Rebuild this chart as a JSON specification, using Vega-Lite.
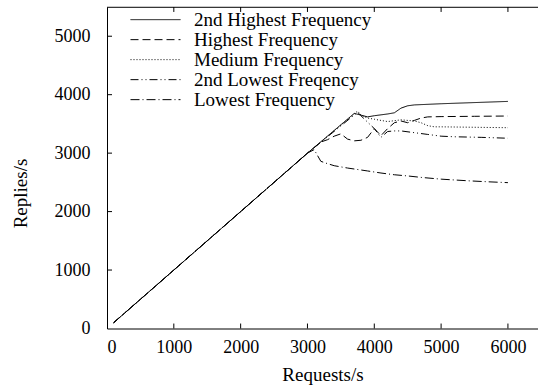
{
  "$schema": "https://vega.github.io/schema/vega-lite/v6.json",
  "autosize": "none",
  "padding": {"left": 107, "top": 7, "right": 0, "bottom": 62},
  "width": 431,
  "height": 321.5,
  "background": "white",
  "config": {
    "view": {"stroke": null},
    "font": "Liberation Serif",
    "axis": {"labelFont": "Liberation Serif", "titleFont": "Liberation Serif", "labelFontSize": 18, "titleFontSize": 19, "labelColor": "black", "titleColor": "black", "titleFontWeight": "normal", "domainColor": "black", "grid": false, "format": "d", "ticks": false},
    "legend": {"labelFont": "Liberation Serif", "labelFontSize": 19, "labelColor": "black", "labelLimit": 0}
  },
  "datasets": {
    "xticks": [
      {"t": 1000}, {"t": 2000}, {"t": 3000}, {"t": 4000}, {"t": 5000}, {"t": 6000}
    ],
    "yticks": [
      {"v": 1000}, {"v": 2000}, {"v": 3000}, {"v": 4000}, {"v": 5000}
    ],
    "topedge": [
      {"a": 0, "b": 6450}
    ]
  },
  "data": {"values": [
    {"series": "2nd Highest Frequency", "req": 100, "rep": 100},
    {"series": "2nd Highest Frequency", "req": 1000, "rep": 1000},
    {"series": "2nd Highest Frequency", "req": 2000, "rep": 2000},
    {"series": "2nd Highest Frequency", "req": 3000, "rep": 3000},
    {"series": "2nd Highest Frequency", "req": 3700, "rep": 3680},
    {"series": "2nd Highest Frequency", "req": 3800, "rep": 3650},
    {"series": "2nd Highest Frequency", "req": 3900, "rep": 3620},
    {"series": "2nd Highest Frequency", "req": 4000, "rep": 3640},
    {"series": "2nd Highest Frequency", "req": 4200, "rep": 3670},
    {"series": "2nd Highest Frequency", "req": 4300, "rep": 3690},
    {"series": "2nd Highest Frequency", "req": 4400, "rep": 3770},
    {"series": "2nd Highest Frequency", "req": 4500, "rep": 3810},
    {"series": "2nd Highest Frequency", "req": 4600, "rep": 3825},
    {"series": "2nd Highest Frequency", "req": 5000, "rep": 3845},
    {"series": "2nd Highest Frequency", "req": 6000, "rep": 3885},

    {"series": "Highest Frequency", "req": 100, "rep": 100},
    {"series": "Highest Frequency", "req": 1000, "rep": 1000},
    {"series": "Highest Frequency", "req": 2000, "rep": 2000},
    {"series": "Highest Frequency", "req": 3000, "rep": 3000},
    {"series": "Highest Frequency", "req": 3200, "rep": 3190},
    {"series": "Highest Frequency", "req": 3300, "rep": 3230},
    {"series": "Highest Frequency", "req": 3400, "rep": 3290},
    {"series": "Highest Frequency", "req": 3500, "rep": 3330},
    {"series": "Highest Frequency", "req": 3600, "rep": 3240},
    {"series": "Highest Frequency", "req": 3700, "rep": 3210},
    {"series": "Highest Frequency", "req": 3800, "rep": 3220},
    {"series": "Highest Frequency", "req": 3900, "rep": 3270},
    {"series": "Highest Frequency", "req": 4000, "rep": 3420},
    {"series": "Highest Frequency", "req": 4100, "rep": 3300},
    {"series": "Highest Frequency", "req": 4200, "rep": 3420},
    {"series": "Highest Frequency", "req": 4300, "rep": 3520},
    {"series": "Highest Frequency", "req": 4400, "rep": 3550},
    {"series": "Highest Frequency", "req": 4500, "rep": 3520},
    {"series": "Highest Frequency", "req": 4600, "rep": 3560},
    {"series": "Highest Frequency", "req": 4700, "rep": 3600},
    {"series": "Highest Frequency", "req": 4800, "rep": 3620},
    {"series": "Highest Frequency", "req": 5000, "rep": 3625},
    {"series": "Highest Frequency", "req": 5500, "rep": 3630},
    {"series": "Highest Frequency", "req": 6000, "rep": 3635},

    {"series": "Medium Frequency", "req": 100, "rep": 100},
    {"series": "Medium Frequency", "req": 1000, "rep": 1000},
    {"series": "Medium Frequency", "req": 2000, "rep": 2000},
    {"series": "Medium Frequency", "req": 3000, "rep": 3000},
    {"series": "Medium Frequency", "req": 3750, "rep": 3720},
    {"series": "Medium Frequency", "req": 3800, "rep": 3650},
    {"series": "Medium Frequency", "req": 3900, "rep": 3600},
    {"series": "Medium Frequency", "req": 4000, "rep": 3580},
    {"series": "Medium Frequency", "req": 4200, "rep": 3540},
    {"series": "Medium Frequency", "req": 4400, "rep": 3570},
    {"series": "Medium Frequency", "req": 4500, "rep": 3560},
    {"series": "Medium Frequency", "req": 4600, "rep": 3550},
    {"series": "Medium Frequency", "req": 4700, "rep": 3520},
    {"series": "Medium Frequency", "req": 4800, "rep": 3470},
    {"series": "Medium Frequency", "req": 4900, "rep": 3450},
    {"series": "Medium Frequency", "req": 5000, "rep": 3450},
    {"series": "Medium Frequency", "req": 6000, "rep": 3435},

    {"series": "2nd Lowest Freqency", "req": 100, "rep": 100},
    {"series": "2nd Lowest Freqency", "req": 1000, "rep": 1000},
    {"series": "2nd Lowest Freqency", "req": 2000, "rep": 2000},
    {"series": "2nd Lowest Freqency", "req": 3000, "rep": 3000},
    {"series": "2nd Lowest Freqency", "req": 3750, "rep": 3700},
    {"series": "2nd Lowest Freqency", "req": 3800, "rep": 3640},
    {"series": "2nd Lowest Freqency", "req": 3900, "rep": 3530},
    {"series": "2nd Lowest Freqency", "req": 4000, "rep": 3420},
    {"series": "2nd Lowest Freqency", "req": 4100, "rep": 3270},
    {"series": "2nd Lowest Freqency", "req": 4200, "rep": 3370},
    {"series": "2nd Lowest Freqency", "req": 4300, "rep": 3380},
    {"series": "2nd Lowest Freqency", "req": 4400, "rep": 3380},
    {"series": "2nd Lowest Freqency", "req": 4600, "rep": 3350},
    {"series": "2nd Lowest Freqency", "req": 4800, "rep": 3320},
    {"series": "2nd Lowest Freqency", "req": 5000, "rep": 3290},
    {"series": "2nd Lowest Freqency", "req": 5200, "rep": 3280},
    {"series": "2nd Lowest Freqency", "req": 5600, "rep": 3270},
    {"series": "2nd Lowest Freqency", "req": 6000, "rep": 3255},

    {"series": "Lowest Frequency", "req": 100, "rep": 100},
    {"series": "Lowest Frequency", "req": 1000, "rep": 1000},
    {"series": "Lowest Frequency", "req": 2000, "rep": 2000},
    {"series": "Lowest Frequency", "req": 3000, "rep": 3000},
    {"series": "Lowest Frequency", "req": 3100, "rep": 3060},
    {"series": "Lowest Frequency", "req": 3200, "rep": 2860},
    {"series": "Lowest Frequency", "req": 3300, "rep": 2820},
    {"series": "Lowest Frequency", "req": 3400, "rep": 2785},
    {"series": "Lowest Frequency", "req": 3600, "rep": 2745},
    {"series": "Lowest Frequency", "req": 3900, "rep": 2695},
    {"series": "Lowest Frequency", "req": 4100, "rep": 2660},
    {"series": "Lowest Frequency", "req": 4300, "rep": 2630},
    {"series": "Lowest Frequency", "req": 4500, "rep": 2610},
    {"series": "Lowest Frequency", "req": 4700, "rep": 2585},
    {"series": "Lowest Frequency", "req": 5000, "rep": 2555},
    {"series": "Lowest Frequency", "req": 5400, "rep": 2527},
    {"series": "Lowest Frequency", "req": 5700, "rep": 2510},
    {"series": "Lowest Frequency", "req": 6000, "rep": 2495}
  ]},
  "layer": [
    {
      "mark": {"type": "line", "color": "black", "strokeWidth": 1},
      "encoding": {
        "x": {"field": "req", "type": "quantitative", "scale": {"domain": [0, 6450], "nice": false, "zero": false},
              "axis": {"title": "Requests/s", "values": [0, 1000, 2000, 3000, 4000, 5000, 6000], "labelPadding": 10, "titleY": 46, "titleBaseline": "middle", "domainWidth": 1}},
        "y": {"field": "rep", "type": "quantitative", "scale": {"domain": [0, 5500], "nice": false, "zero": false},
              "axis": {"title": "Replies/s", "values": [0, 1000, 2000, 3000, 4000, 5000], "labelPadding": 17, "titleX": -87, "titleY": 186, "titleAlign": "center", "titleBaseline": "middle", "titleAngle": -90, "domainWidth": 1}},
        "strokeDash": {"field": "series", "type": "nominal",
          "scale": {"domain": ["2nd Highest Frequency", "Highest Frequency", "Medium Frequency", "2nd Lowest Freqency", "Lowest Frequency"],
                    "range": [[1, 0], [8, 4], [1, 2], [8, 3, 1, 3, 1, 3], [9, 3, 1, 3]]},
          "legend": {"title": null, "orient": "none", "legendX": 23, "legendY": 3, "symbolType": "stroke", "symbolSize": 2500, "symbolStrokeWidth": 1, "symbolStrokeColor": "black", "clipHeight": 19.3, "rowPadding": 0, "labelOffset": 13}},
        "detail": {"field": "series"}
      }
    },
    {
      "data": {"name": "topedge"},
      "mark": {"type": "rule", "color": "black", "strokeWidth": 1},
      "encoding": {
        "x": {"field": "a", "type": "quantitative"},
        "x2": {"field": "b"},
        "y": {"datum": 5495, "type": "quantitative"}
      }
    },
    {
      "data": {"name": "xticks"},
      "mark": {"type": "rule", "color": "black", "strokeWidth": 1},
      "encoding": {
        "x": {"field": "t", "type": "quantitative"},
        "y": {"datum": 5500, "type": "quantitative"},
        "y2": {"datum": 5415}
      }
    },
    {
      "data": {"name": "xticks"},
      "mark": {"type": "rule", "color": "black", "strokeWidth": 1},
      "encoding": {
        "x": {"field": "t", "type": "quantitative"},
        "y": {"datum": 0, "type": "quantitative"},
        "y2": {"datum": 85}
      }
    },
    {
      "data": {"name": "yticks"},
      "mark": {"type": "rule", "color": "black", "strokeWidth": 1},
      "encoding": {
        "y": {"field": "v", "type": "quantitative"},
        "x": {"datum": 0, "type": "quantitative"},
        "x2": {"datum": 75}
      }
    }
  ]
}
